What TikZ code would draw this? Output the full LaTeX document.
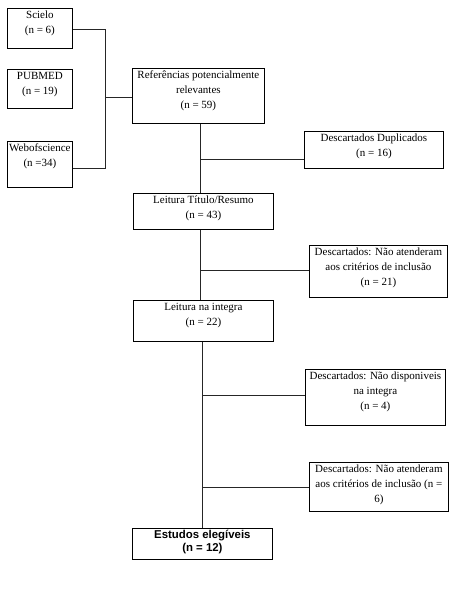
\documentclass[tikz,border=0pt]{standalone}
\usepackage{fontspec}
\setmainfont{Liberation Serif}
\newfontfamily\boxsans{Liberation Sans}
\begin{document}
\begin{tikzpicture}[x=1pt,y=-1pt,
  box/.style={draw=black, line width=0.8pt, anchor=north west, inner sep=0pt, rectangle},
  txt/.style={anchor=north, align=center, inner sep=3pt, font=\fontsize{11}{15}\selectfont},
  btxt/.style={anchor=north, align=center, inner sep=2pt, font=\boxsans\bfseries\fontsize{11.4}{13}\selectfont},
  link/.style={draw=black!85, line width=0.8pt}]
\useasboundingbox (0,0) rectangle (465,600);
% boxes
\node (s) [box, minimum width=65pt, minimum height=40pt] at (7,8) {};
\node (p) [box, minimum width=65pt, minimum height=39pt] at (7,69) {};
\node (w) [box, minimum width=65pt, minimum height=46pt] at (7,141) {};
\node (r) [box, minimum width=132pt, minimum height=55pt] at (132,68) {};
\node (dd) [box, minimum width=139pt, minimum height=37pt] at (304,131) {};
\node (lt) [box, minimum width=140pt, minimum height=36pt] at (133,193) {};
\node (d21) [box, minimum width=138pt, minimum height=52pt] at (309,245) {};
\node (li) [box, minimum width=140pt, minimum height=41pt] at (133,300) {};
\node (d4) [box, minimum width=140pt, minimum height=56pt] at (305,369) {};
\node (d6) [box, minimum width=139pt, minimum height=49pt] at (309,462) {};
\node (e) [box, minimum width=140pt, minimum height=31pt] at (132,528) {};
% texts
\node (ts) [txt] at (s.north) {Scielo\\(n = 6)};
\node (tp) [txt] at (p.north) {PUBMED\\(n = 19)};
\node (tw) [txt, inner xsep=0pt] at (w.north) {Webofscience\\(n =34)};
\node (tr) [txt] at (r.north) {Referências potencialmente\\relevantes\\(n = 59)};
\node (tdd) [txt] at (dd.north) {Descartados Duplicados\\(n = 16)};
\node (tlt) [txt] at (lt.north) {Leitura Título/Resumo\\(n = 43)};
\node (td21) [txt] at (d21.north) {Descartados: Não atenderam\\aos critérios de inclusão\\(n = 21)};
\node (tli) [txt] at (li.north) {Leitura na integra\\(n = 22)};
\node (td4) [txt] at (d4.north) {Descartados: Não disponiveis\\na integra\\(n = 4)};
\node (td6) [txt] at (d6.north) {Descartados: Não atenderam\\aos critérios de inclusão (n =\\6)};
\node (te) [btxt] at (e.north) {Estudos elegíveis\\(n = 12)};
% junction coordinates
\coordinate (j) at (105,97);
\coordinate (ja) at (105,29);
\coordinate (jb) at (105,168);
\coordinate (b1) at (200,159);
\coordinate (b2) at (200,270);
\coordinate (b3) at (202,395);
\coordinate (b4) at (202,487);
% connectors
\draw[link] (ja -| s.east) -- (ja) -- (jb) -- (jb -| w.east);
\draw[link] (j) -- (j -| r.west);
\draw[link] (r.south -| b1) -- (lt.north -| b1);
\draw[link] (b1) -- (b1 -| dd.west);
\draw[link] (lt.south -| b2) -- (li.north -| b2);
\draw[link] (b2) -- (b2 -| d21.west);
\draw[link] (li.south -| b3) -- (e.north -| b3);
\draw[link] (b3) -- (b3 -| d4.west);
\draw[link] (b4) -- (b4 -| d6.west);
\end{tikzpicture}
\end{document}
